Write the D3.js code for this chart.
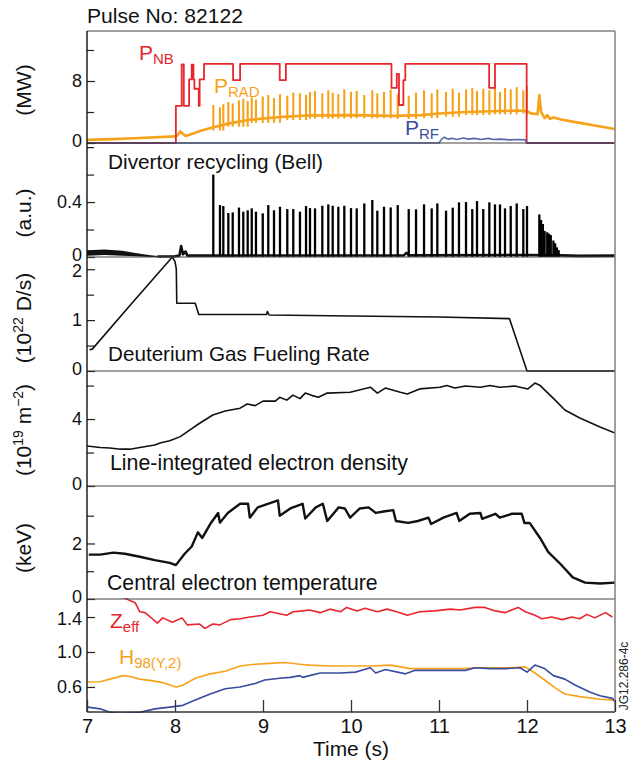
<!DOCTYPE html>
<html lang="en">
<head>
<meta charset="UTF-8">
<title>Pulse No: 82122</title>
<script src="https://d3js.org/d3.v7.min.js"></script>
<style>
  body { margin: 0; background: #fff; }
  svg { font-family: "Liberation Sans", Arial, Helvetica, sans-serif; }
  .lbl { font-size: 21px; fill: #111; }
</style>
</head>
<body>
<svg width="630" height="765"></svg>
<script>
// ---------- data (time in s) ----------
const xTicks = [7, 8, 9, 10, 11, 12, 13];

// panel 1 (MW)
const pnb = [[7,0],[8.01,4.8],[8.076,10.15],[8.10,4.8],[8.16,8.2],[8.19,10.1],[8.21,8.2],[8.22,7.0],[8.27,4.8],[8.28,8.2],[8.33,10.2],
  [8.66,8.1],[8.74,10.2],[9.19,8.1],[9.26,10.2],[10.46,7.1],[10.52,8.9],[10.545,4.9],[10.595,8.1],[10.617,10.2],
  [11.57,7.1],[11.636,10.2],[11.996,0],[13,0]];
const pradBase = [[7.0,0.4],[7.3,0.5],[7.6,0.65],[8.0,0.85],[8.03,1.0],[8.06,1.5],[8.08,1.3],[8.12,0.9],[8.2,1.2],[8.3,1.6],
  [8.43,2.0],[8.6,2.5],[8.85,3.0],[9.2,3.35],[9.5,3.55],[10.0,3.6],[10.5,3.5],[10.8,3.6],[11.0,3.8],[11.3,4.0],[11.6,4.1],
  [11.9,4.2],[12.0,4.1],[12.05,3.8],[12.12,3.7],[12.14,6.2],[12.16,4.0],[12.2,3.2],[12.23,3.6],[12.26,3.1],[12.3,3.3],
  [12.4,3.0],[12.6,2.6],[12.8,2.2],[13.0,1.8]];
const prf = [[7,0],[11.0,0],[11.03,0.5],[11.06,0.75],[11.1,0.5],[11.15,0.6],[11.2,0.45],[11.28,0.65],[11.33,0.5],[11.4,0.6],
  [11.48,0.45],[11.56,0.6],[11.62,0.45],[11.7,0.5],[11.8,0.4],[11.9,0.45],[11.98,0.4],[12.0,0],[13,0]];

// ELM times (shared by P_RAD and divertor recycling)
const elmT = [8.435,8.511,8.549,8.606,8.656,8.727,8.776,8.826,8.872,8.920,8.997,9.060,9.125,9.193,9.276,9.344,9.420,9.489,
  9.534,9.591,9.674,9.742,9.792,9.856,9.924,10.000,10.065,10.151,10.242,10.299,10.375,10.451,10.531,10.656,10.739,10.830,
  10.917,10.981,11.080,11.156,11.227,11.307,11.378,11.432,11.503,11.572,11.636,11.693,11.750,11.815,11.883,11.958,12.000];
const elmRad = [4.9,4.6,5.0,5.3,5.1,5.5,5.7,5.4,5.9,5.6,6.0,6.2,5.8,6.3,6.1,6.5,6.4,6.2,6.6,6.7,6.4,6.8,6.5,6.3,6.9,6.6,
  6.7,6.2,6.8,6.4,6.6,6.9,6.3,6.1,6.5,6.8,6.4,6.9,6.6,7.0,6.5,6.9,7.1,6.7,7.0,6.8,7.2,6.6,7.1,6.9,7.2,6.8,7.3];
const elmDiv = [0.60,0.378,0.371,0.32,0.325,0.36,0.33,0.34,0.354,0.33,0.318,0.378,0.34,0.366,0.349,0.349,0.33,0.371,0.356,
  0.354,0.373,0.383,0.373,0.366,0.373,0.356,0.354,0.39,0.415,0.337,0.366,0.361,0.378,0.349,0.347,0.383,0.354,0.39,0.337,
  0.359,0.398,0.40,0.349,0.407,0.349,0.398,0.383,0.383,0.354,0.371,0.39,0.349,0.371];
const lateT = [12.14,12.16,12.18,12.20,12.23,12.25,12.27,12.30,12.32,12.34,12.36];
const lateDiv = [0.31,0.27,0.24,0.19,0.18,0.17,0.16,0.12,0.10,0.07,0.05];

// panel 2 (a.u.)
const divBand = [[7.0,0.01,0.05],[7.2,0.015,0.055],[7.4,0.01,0.045],[7.55,0.005,0.03],[7.7,0.0,0.015],[7.8,0.0,0.008]];
const divBase = [[7.8,0.004],[8.0,0.005],[8.05,0.01],[8.07,0.08],[8.09,0.02],[8.12,0.04],[8.14,0.01],[8.4,0.01],
  [10.6,0.012],[10.63,0.03],[10.66,0.012],[12.0,0.015],[12.4,0.012],[12.6,0.008],[13.0,0.01]];

// panel 3 (10^22 D/s)
const fuel = [[7.03,0.42],[7.06,0.43],[7.52,1.35],[7.97,2.24],[8.0,2.15],[8.015,2.0],[8.02,1.33],[8.23,1.33],[8.27,1.11],
  [9.04,1.11],[9.05,1.17],[9.07,1.1],[10.0,1.08],[11.0,1.06],[11.8,1.03],[12.0,0.0],[13.0,0.0]];

// panel 4 (10^19 m^-2)
const ne = [[7.0,2.39],[7.15,2.3],[7.26,2.27],[7.38,2.2],[7.49,2.2],[7.6,2.3],[7.77,2.45],[7.83,2.57],[7.94,2.7],[8.06,2.95],
  [8.17,3.35],[8.28,3.75],[8.43,4.24],[8.57,4.48],[8.74,4.65],[8.82,4.9],[8.91,4.8],[9.0,5.07],[9.14,5.07],[9.19,5.3],
  [9.27,5.13],[9.34,5.43],[9.42,5.22],[9.48,5.55],[9.56,5.4],[9.63,5.3],[9.73,5.55],[9.99,5.6],[10.22,5.9],[10.3,5.55],
  [10.39,5.85],[10.56,5.6],[10.64,5.5],[10.78,5.8],[11.01,5.9],[11.09,6.0],[11.18,5.85],[11.3,5.97],[11.47,5.9],[11.58,6.0],
  [11.69,5.9],[11.86,5.97],[12.01,5.8],[12.09,6.15],[12.15,6.0],[12.32,5.13],[12.43,4.54],[12.6,4.06],[12.83,3.52],[13.0,3.16]];

// panel 5 (keV)
const te = [[7.02,1.6],[7.15,1.6],[7.3,1.67],[7.43,1.63],[7.6,1.52],[7.77,1.4],[7.94,1.3],[8.01,1.22],[8.11,1.63],[8.19,1.89],
  [8.26,2.4],[8.31,2.2],[8.4,2.7],[8.49,3.1],[8.51,2.75],[8.6,3.1],[8.74,3.43],[8.83,3.43],[8.85,2.93],[8.94,3.3],[9.17,3.55],
  [9.19,3.0],[9.31,3.26],[9.45,3.43],[9.48,2.9],[9.6,3.3],[9.68,3.43],[9.73,2.81],[9.86,3.3],[9.93,3.26],[9.99,2.93],
  [10.1,3.26],[10.2,3.3],[10.28,3.1],[10.37,3.15],[10.48,3.2],[10.51,2.81],[10.65,2.74],[10.76,2.81],[10.88,2.93],
  [10.91,2.7],[11.05,2.93],[11.2,3.1],[11.23,2.81],[11.35,3.07],[11.47,3.1],[11.49,2.89],[11.64,3.07],[11.69,2.93],
  [11.83,3.07],[11.94,3.07],[11.97,2.74],[12.03,2.74],[12.15,2.19],[12.24,1.7],[12.38,1.26],[12.52,0.78],[12.66,0.59],
  [12.83,0.56],[13.0,0.59]];

// panel 6
const zeff = [[7.4,1.63],[7.55,1.56],[7.6,1.46],[7.66,1.45],[7.72,1.4],[7.8,1.33],[7.86,1.39],[7.97,1.34],[8.08,1.39],
  [8.14,1.31],[8.28,1.32],[8.34,1.27],[8.43,1.32],[8.51,1.31],[8.63,1.37],[8.74,1.38],[8.85,1.4],[9.0,1.42],[9.08,1.46],
  [9.27,1.42],[9.34,1.46],[9.45,1.47],[9.53,1.48],[9.65,1.45],[9.76,1.49],[9.88,1.46],[9.95,1.51],[10.07,1.47],[10.16,1.5],
  [10.3,1.46],[10.41,1.49],[10.52,1.46],[10.64,1.42],[10.78,1.46],[10.95,1.47],[11.13,1.49],[11.24,1.48],[11.41,1.51],
  [11.52,1.51],[11.64,1.47],[11.75,1.45],[11.9,1.51],[11.98,1.46],[12.09,1.42],[12.17,1.38],[12.28,1.4],[12.4,1.37],
  [12.51,1.4],[12.6,1.38],[12.68,1.43],[12.77,1.39],[12.89,1.45],[12.97,1.4]];
const h98 = [[7.01,0.657],[7.15,0.66],[7.26,0.69],[7.41,0.73],[7.49,0.72],[7.6,0.69],[7.75,0.67],[7.86,0.65],[8.01,0.6],
  [8.09,0.62],[8.23,0.7],[8.4,0.75],[8.57,0.78],[8.74,0.84],[8.91,0.86],[9.08,0.87],[9.25,0.88],[9.42,0.86],[9.53,0.85],
  [9.76,0.84],[9.99,0.84],[10.22,0.84],[10.45,0.85],[10.56,0.83],[10.67,0.81],[10.9,0.81],[11.24,0.81],[11.47,0.82],
  [11.81,0.82],[11.98,0.83],[12.09,0.76],[12.2,0.68],[12.32,0.59],[12.43,0.52],[12.6,0.49],[12.83,0.46],[13.0,0.45]];
const blue6 = [[7.01,0.37],[7.15,0.35],[7.26,0.31],[7.38,0.3],[7.6,0.31],[7.77,0.35],[7.94,0.37],[8.09,0.39],[8.23,0.45],
  [8.4,0.52],[8.57,0.58],[8.74,0.6],[8.91,0.64],[9.02,0.68],[9.19,0.7],[9.31,0.71],[9.42,0.73],[9.45,0.71],[9.53,0.73],
  [9.65,0.76],[9.88,0.76],[10.05,0.77],[10.22,0.82],[10.28,0.76],[10.39,0.8],[10.62,0.75],[10.73,0.79],[11.01,0.79],
  [11.3,0.79],[11.41,0.82],[11.58,0.81],[11.75,0.81],[11.92,0.82],[12.0,0.77],[12.09,0.85],[12.2,0.81],[12.3,0.73],
  [12.43,0.69],[12.55,0.62],[12.72,0.54],[12.83,0.5],[12.97,0.47],[13.0,0.43]];

// y tick values per panel
const p1Major = [0, 8],   p1Minor = [4, 12];
const p2Major = [0, 0.4], p2Minor = [0.2, 0.6, 0.8];
const p3Major = [0, 1, 2], p3Minor = [0.5, 1.5];
const p4Major = [0, 4],   p4Minor = [2, 6];
const p5Major = [0, 2],   p5Minor = [1, 3];
const p6Major = [0.6, 1.0, 1.4], p6Minor = [];

// ---------- layout ----------
const RED = "#e8262d", ORANGE = "#f7a21b", BLUE = "#3b4c9e";
const svg = d3.select("svg");
const left = 87, right = 615;
const x = d3.scaleLinear().domain([7, 13]).range([left, right]);

const panels = [
  { top: 31,  bottom: 143, domain: [0, 14.45],    major: p1Major, minor: p1Minor, fmt: d3.format("d") },
  { top: 143, bottom: 257, domain: [0, 0.83],     major: p2Major, minor: p2Minor, fmt: d => d === 0 ? "0" : d3.format(".1f")(d) },
  { top: 257, bottom: 371, domain: [0, 2.24],     major: p3Major, minor: p3Minor, fmt: d3.format("d") },
  { top: 371, bottom: 486, domain: [0, 6.87],     major: p4Major, minor: p4Minor, fmt: d3.format("d") },
  { top: 486, bottom: 599, domain: [0, 4.07],     major: p5Major, minor: p5Minor, fmt: d3.format("d") },
  { top: 599, bottom: 712, domain: [0.314, 1.606], major: p6Major, minor: p6Minor, fmt: d3.format(".1f") }
];

const defs = svg.append("defs");
panels.forEach((p, i) => {
  p.y = d3.scaleLinear().domain(p.domain).range([p.bottom, p.top]);
  defs.append("clipPath").attr("id", "clip" + i)
    .append("rect").attr("x", left).attr("y", p.top - 1)
    .attr("width", right - left).attr("height", p.bottom - p.top + 2);
  p.g = svg.append("g").attr("clip-path", `url(#clip${i})`);
});

const line = (p, curve) => d3.line().x(d => x(d[0])).y(d => p.y(d[1])).curve(curve || d3.curveLinear);
const draw = (p, data, color, w, curve) =>
  p.g.append("path").datum(data).attr("d", line(p, curve)).attr("fill", "none")
    .attr("stroke", color).attr("stroke-width", w).attr("stroke-linejoin", "round");

// value of a series at the last sample before t (for spike feet)
const bis = d3.bisector(d => d[0]).right;
const footAt = (series, t) => series[Math.max(0, bis(series, t) - 1)][1];

// ---- panel 1 ----
const P1 = panels[0];
draw(P1, pradBase, ORANGE, 2.6);
P1.g.selectAll(".elmr").data(elmT).join("line")
  .attr("x1", d => x(d)).attr("x2", d => x(d))
  .attr("y1", d => P1.y(footAt(pradBase, d) - 0.4)).attr("y2", (d, i) => P1.y(elmRad[i]))
  .attr("stroke", ORANGE).attr("stroke-width", 2.1);
draw(P1, pnb, RED, 1.8, d3.curveStepAfter);
draw(P1, prf, BLUE, 1.6).attr("stroke-opacity", 0.85);

// ---- panel 2 ----
const P2 = panels[1];
P2.g.append("path").datum(divBand)
  .attr("d", d3.area().x(d => x(d[0])).y0(d => P2.y(d[1])).y1(d => P2.y(d[2])))
  .attr("fill", "#111");
draw(P2, divBase, "#111", 2.6);
P2.g.selectAll(".elmd").data(elmT.map((t, i) => [t, elmDiv[i]]).concat(lateT.map((t, i) => [t, lateDiv[i]])))
  .join("line")
  .attr("x1", d => x(d[0])).attr("x2", d => x(d[0]))
  .attr("y1", P2.y(0)).attr("y2", d => P2.y(d[1]))
  .attr("stroke", "#000").attr("stroke-width", 2.3);

// ---- panels 3-5 ----
draw(panels[2], fuel, "#111", 1.6);
draw(panels[3], ne, "#111", 1.6);
draw(panels[4], te, "#111", 2.4);

// ---- panel 6 ----
const P6 = panels[5];
draw(P6, zeff, RED, 1.6);
draw(P6, h98, ORANGE, 1.6);
draw(P6, blue6, BLUE, 1.6);

// ---------- frames & axes ----------
panels.forEach((p, i) => {
  svg.append("line").attr("x1", left).attr("x2", right).attr("y1", p.top).attr("y2", p.top)
    .attr("stroke", "#444").attr("stroke-width", 1.2);
  const ax = svg.append("g").attr("transform", `translate(${left},0)`)
    .call(d3.axisLeft(p.y).tickValues(p.major).tickFormat(p.fmt).tickSize(-8).tickSizeOuter(0).tickPadding(5));
  ax.select(".domain").remove();
  ax.selectAll("text").attr("font-size", 18).attr("font-family", "Liberation Sans, Arial, sans-serif").attr("fill", "#111");
  ax.selectAll("line").attr("stroke", "#222").attr("stroke-width", 1.2);
  // labels that sit on a panel edge are nudged a little away from their neighbours
  ax.selectAll("text").attr("y", d => (d === p.domain[0] && i < 5) ? -2 : (i > 0 && d === p.major[p.major.length - 1] && (i === 2 || i === 5)) ? 2 : 0);
  const mn = svg.append("g").attr("transform", `translate(${left},0)`)
    .call(d3.axisLeft(p.y).tickValues(p.minor).tickFormat("").tickSize(-7).tickSizeOuter(0));
  mn.select(".domain").remove();
  mn.selectAll("line").attr("stroke", "#222").attr("stroke-width", 1.2);
});
svg.append("line").attr("x1", left).attr("x2", right).attr("y1", 712).attr("y2", 712)
  .attr("stroke", "#333").attr("stroke-width", 1.4);
svg.append("line").attr("x1", left).attr("x2", left).attr("y1", 31).attr("y2", 712)
  .attr("stroke", "#111").attr("stroke-width", 1.4);
svg.append("line").attr("x1", right).attr("x2", right).attr("y1", 31).attr("y2", 712)
  .attr("stroke", "#888").attr("stroke-width", 1.6);

const xa = svg.append("g").attr("transform", "translate(0,712)")
  .call(d3.axisBottom(x).tickValues(xTicks).tickFormat(d3.format("d")).tickSize(-12).tickSizeOuter(0).tickPadding(7));
xa.select(".domain").remove();
xa.selectAll("text").attr("font-size", 20).attr("font-family", "Liberation Sans, Arial, sans-serif").attr("fill", "#111");
xa.selectAll("line").attr("stroke", "#333").attr("stroke-width", 1.3);

// ---------- texts ----------
// each label is sized so that it spans the same width as in the figure
function fitText(x0, y0, s, width, anchor) {
  const t = svg.append("text").attr("class", "lbl").attr("x", x0).attr("y", y0)
    .attr("text-anchor", anchor || "start").text(s);
  const w = t.node().getComputedTextLength();
  if (w > 0) t.style("font-size", Math.max(19, Math.min(23, 21 * width / w)) + "px");
  return t;
}
fitText(87, 23, "Pulse No: 82122", 156);
fitText(108, 169, "Divertor recycling (Bell)", 215);
fitText(108, 361, "Deuterium Gas Fueling Rate", 262);
fitText(110, 470, "Line-integrated electron density", 298);
fitText(107, 590, "Central electron temperature", 271);
fitText((left + right) / 2, 756, "Time (s)", 76, "middle");

// subscripted series names
function named(x0, y0, main, sub, color) {
  const t = svg.append("text").attr("x", x0).attr("y", y0).attr("fill", color).attr("font-size", 21);
  t.append("tspan").text(main);
  t.append("tspan").attr("dy", 4).attr("font-size", 15).text(sub);
}
named(139, 60, "P", "NB", RED);
named(214, 93, "P", "RAD", ORANGE);
named(405, 135, "P", "RF", BLUE);
named(110, 628, "Z", "eff", RED);
named(119, 664, "H", "98(Y,2)", ORANGE);

// rotated y titles
function ytitle(cy, parts) {
  const t = svg.append("text").attr("class", "lbl").attr("text-anchor", "middle")
    .attr("transform", `translate(31,${cy}) rotate(-90)`);
  parts.forEach(([s, sup]) => {
    const ts = t.append("tspan").text(s);
    if (sup) ts.attr("font-size", 14).attr("dy", -8);
    else if (sup === false) ts.attr("dy", 8);
  });
}
ytitle(90, [["(MW)"]]);
ytitle(213, [["(a.u.)"]]);
ytitle(318, [["(10"], ["22", true], [" D/s)", false]]);
ytitle(430, [["(10"], ["19", true], [" m", false], ["\u22122", true], [")", false]]);
ytitle(548, [["(keV)"]]);

svg.append("text").attr("transform", "translate(628,676) rotate(-90)").attr("text-anchor", "middle")
  .attr("font-size", 12).attr("fill", "#222").text("JG12.286-4c");
</script>
</body>
</html>
